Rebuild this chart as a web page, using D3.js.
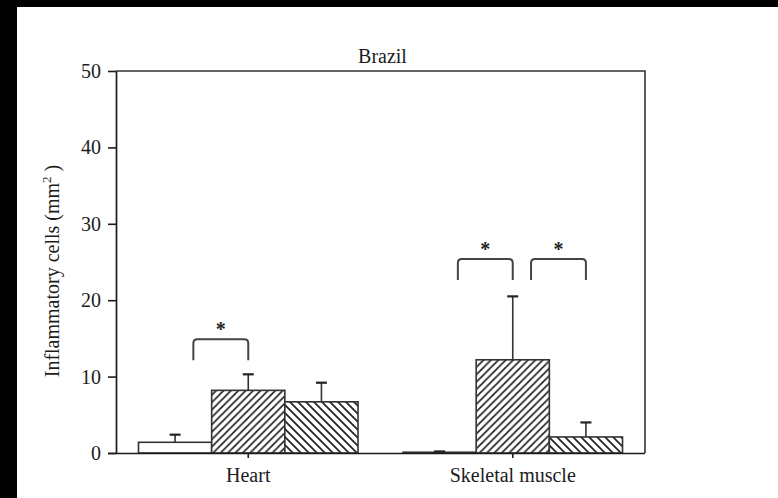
<!DOCTYPE html>
<html><head><meta charset="utf-8">
<script src="https://cdn.jsdelivr.net/npm/d3@7"></script>
<style>body{margin:0;background:#000;} svg{display:block}</style>
</head><body>
<svg id="c" width="778" height="498"></svg>
<script>
// ---- data ----
const title = "Brazil";
const categories = ["Heart", "Skeletal muscle"];
const series = ["Group 1", "Group 2", "Group 3"];
const group1Mean = [1.4, 0.1];
const group2Mean = [8.2, 12.2];
const group3Mean = [6.7, 2.1];
const group1Err = [1.0, 0.1];
const group2Err = [2.1, 8.3];
const group3Err = [2.5, 1.9];
const yTicks = [0, 10, 20, 30, 40, 50];
const comparisons = [
  {category: "Heart", from: 0, to: 1, level: 14.9},
  {category: "Skeletal muscle", from: 0, to: 1, level: 25.4},
  {category: "Skeletal muscle", from: 1, to: 2, level: 25.4}
];

const means = [group1Mean, group2Mean, group3Mean];
const errs = [group1Err, group2Err, group3Err];
const rows = [];
categories.forEach((c, ci) => series.forEach((s, si) => rows.push({category: c, series: s, si, value: means[si][ci], err: errs[si][ci]})));

// ---- layout ----
const svg = d3.select("#c");
const font = "'Liberation Serif', 'Times New Roman', serif";
const ink = "#1c1c1c";
svg.append("rect").attr("x", 17).attr("y", 7).attr("width", 778 - 17).attr("height", 498 - 7).attr("fill", "#fff");

const plot = {left: 116, right: 645, top: 71, bottom: 453};
const x0 = d3.scaleBand().domain(categories).range([plot.left, plot.right]).paddingInner(0.17).paddingOuter(0.085);
const x1 = d3.scaleBand().domain(series).range([0, x0.bandwidth()]);
const y = d3.scaleLinear().domain([0, 50]).range([plot.bottom, plot.top]);

// patterns
const defs = svg.append("defs");
function hatch(id, size, dir) {
  const p = defs.append("pattern").attr("id", id).attr("patternUnits", "userSpaceOnUse")
    .attr("width", size).attr("height", size);
  p.append("rect").attr("width", size).attr("height", size).attr("fill", "#fff");
  const s = size;
  const d = dir === "fwd"
    ? `M0,${s} L${s},0 M${-s/2},${s/2} L${s/2},${-s/2} M${s/2},${s*1.5} L${s*1.5},${s/2}`
    : `M0,0 L${s},${s} M${-s/2},${s/2} L${s/2},${s*1.5} M${s/2},${-s/2} L${s*1.5},${s/2}`;
  p.append("path").attr("d", d).attr("stroke", "#222").attr("stroke-width", 1.7);
}
hatch("h2", 7.4, "fwd");
hatch("h3", 8, "back");
const fills = ["#fff", "url(#h2)", "url(#h3)"];

// bars
const gBars = svg.append("g");
gBars.selectAll("rect.bar").data(rows).join("rect").attr("class", "bar")
  .attr("x", d => x0(d.category) + x1(d.series))
  .attr("y", d => y(d.value))
  .attr("width", x1.bandwidth())
  .attr("height", d => y(0) - y(d.value))
  .attr("fill", d => fills[d.si])
  .attr("stroke", "#333").attr("stroke-width", 1.6);

// error bars (upper only)
const capW = 11;
const cx = d => x0(d.category) + x1(d.series) + x1.bandwidth() / 2;
gBars.selectAll("line.err").data(rows).join("line").attr("class", "err")
  .attr("x1", cx).attr("x2", cx)
  .attr("y1", d => y(d.value)).attr("y2", d => y(d.value + d.err))
  .attr("stroke", "#333").attr("stroke-width", 1.6);
gBars.selectAll("line.cap").data(rows).join("line").attr("class", "cap")
  .attr("x1", d => cx(d) - capW / 2).attr("x2", d => cx(d) + capW / 2)
  .attr("y1", d => y(d.value + d.err)).attr("y2", d => y(d.value + d.err))
  .attr("stroke", "#222").attr("stroke-width", 2.2);

// frame
svg.append("path")
  .attr("d", `M${plot.left},${plot.top} H${plot.right} V${plot.bottom}`)
  .attr("fill", "none").attr("stroke", "#333").attr("stroke-width", 1.6);

// axes
const yAxis = svg.append("g").attr("transform", `translate(${plot.left},0)`)
  .call(d3.axisLeft(y).tickValues(yTicks).tickSize(8).tickPadding(7).tickSizeOuter(0));
const xAxis = svg.append("g").attr("transform", `translate(0,${plot.bottom})`)
  .call(d3.axisBottom(x0).tickSize(5).tickPadding(10).tickSizeOuter(0));
[yAxis, xAxis].forEach(a => {
  a.select(".domain").attr("stroke", "#1a1a1a").attr("stroke-width", 1.7);
  a.selectAll(".tick line").attr("stroke", "#1a1a1a").attr("stroke-width", 1.6);
  a.selectAll("text").attr("font-family", font).attr("font-size", 20).attr("fill", ink);
});
xAxis.select(".domain").attr("d", `M${plot.left - 8},0.5H${plot.right}`);
xAxis.selectAll(".tick text").attr("dy", "0.71em");

// title
svg.append("text").attr("x", (plot.left + plot.right) / 2 + 2).attr("y", 63)
  .attr("text-anchor", "middle").attr("font-family", font).attr("font-size", 20).attr("fill", ink)
  .text(title);

// y label
const yl = svg.append("text").attr("transform", `translate(59,${(plot.top + plot.bottom) / 2 + 9}) rotate(-90)`)
  .attr("text-anchor", "middle").attr("font-family", font).attr("font-size", 20).attr("fill", ink);
yl.append("tspan").text("Inflammatory cells (mm");
yl.append("tspan").attr("font-size", 13).attr("dy", -8).text("2");
yl.append("tspan").attr("dy", 8).text(" )");

// significance brackets
const legLen = 2.75, r = 4;
const gSig = svg.append("g");
comparisons.forEach(c => {
  const xa = x0(c.category) + x1(series[c.from]) + x1.bandwidth() * 0.75;
  const xb = x0(c.category) + x1(series[c.to]) + x1.bandwidth() / 2;
  const yt = y(c.level), yb = y(c.level - legLen);
  gSig.append("path")
    .attr("d", `M${xa},${yb} V${yt + r} Q${xa},${yt} ${xa + r},${yt} H${xb - r} Q${xb},${yt} ${xb},${yt + r} V${yb}`)
    .attr("fill", "none").attr("stroke", "#444").attr("stroke-width", 2);
  gSig.append("text").attr("x", (xa + xb) / 2).attr("y", yt - 3)
    .attr("text-anchor", "middle").attr("font-family", font).attr("font-size", 20).attr("font-weight", "bold")
    .attr("fill", "#222").text("*");
});
</script>
</body></html>
